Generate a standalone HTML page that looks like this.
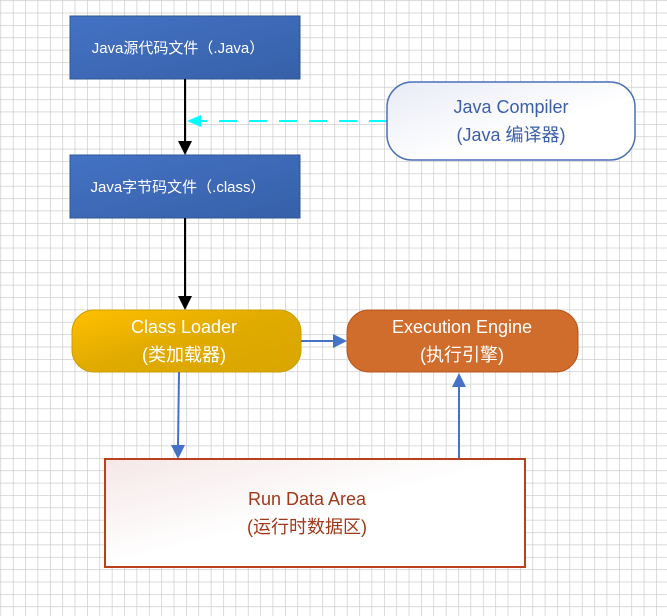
<!DOCTYPE html>
<html><head><meta charset="utf-8"><style>
html,body{margin:0;padding:0;background:#fff;}
svg{display:block;}
text{font-family:"Liberation Sans","Noto Sans CJK SC",sans-serif;}
</style></head><body>
<svg width="667" height="616" viewBox="0 0 667 616" xmlns="http://www.w3.org/2000/svg">
<defs>
<pattern id="g" x="0.5" y="0.3" width="12.37" height="12.37" patternUnits="userSpaceOnUse">
<path d="M0 0H12.37M0 0V12.37" stroke="#c4c4c4" stroke-width="1.2" fill="none"/>
</pattern>
<linearGradient id="blue" x1="0" y1="0" x2="1" y2="1"><stop offset="0" stop-color="#4472c4"/><stop offset="1" stop-color="#3660a8"/></linearGradient>
<linearGradient id="yel" x1="0" y1="0" x2="1" y2="1"><stop offset="0" stop-color="#ffc000"/><stop offset="0.5" stop-color="#e0aa00"/><stop offset="1" stop-color="#d9a600"/></linearGradient>
<linearGradient id="wb" x1="0" y1="0" x2="1" y2="1"><stop offset="0" stop-color="#e8ebf6"/><stop offset="0.6" stop-color="#fff"/></linearGradient>
<linearGradient id="wr" x1="0" y1="0" x2="1" y2="1"><stop offset="0" stop-color="#f5e7e7"/><stop offset="0.5" stop-color="#fff"/></linearGradient>
</defs>
<rect width="667" height="616" fill="url(#g)"/>

<rect x="70" y="16" width="230" height="63" fill="url(#blue)" stroke="#2f5597" stroke-width="1"/>
<text x="178" y="53" fill="#fff" font-size="15" text-anchor="middle">Java源代码文件（.Java）</text>
<rect x="70" y="155" width="230" height="63" fill="url(#blue)" stroke="#2f5597" stroke-width="1"/>
<text x="178" y="192" fill="#fff" font-size="15" text-anchor="middle">Java字节码文件（.class）</text>

<line x1="185" y1="79" x2="185" y2="142" stroke="#000" stroke-width="2"/>
<polygon points="178,141 192,141 185,155" fill="#000"/>
<line x1="185" y1="218" x2="185" y2="297" stroke="#000" stroke-width="2"/>
<polygon points="178,296 192,296 185,310" fill="#000"/>

<line x1="387" y1="121" x2="200" y2="121" stroke="#00ffff" stroke-width="2" stroke-dasharray="18,12"/>
<polygon points="187,121 201,115 201,127" fill="#00ffff"/>

<rect x="387" y="82" width="248" height="78" rx="25" fill="url(#wb)" stroke="#4a70b8" stroke-width="1.5"/>
<text x="511" y="113" fill="#3b5fa8" font-size="18" text-anchor="middle">Java Compiler</text>
<text x="511" y="141" fill="#3b5fa8" font-size="18" text-anchor="middle">(Java 编译器)</text>

<rect x="72" y="310" width="229" height="62" rx="22" fill="url(#yel)" stroke="#c9a000" stroke-width="1"/>
<text x="184" y="333" fill="#fff" font-size="18" text-anchor="middle">Class Loader</text>
<text x="184" y="361" fill="#fff" font-size="18" text-anchor="middle">(类加载器)</text>

<rect x="347" y="310" width="231" height="62" rx="22" fill="#d06c2c" stroke="#b5561e" stroke-width="1"/>
<text x="462" y="333" fill="#fff" font-size="18" text-anchor="middle">Execution Engine</text>
<text x="462" y="361" fill="#fff" font-size="18" text-anchor="middle">(执行引擎)</text>

<line x1="301" y1="341" x2="334" y2="341" stroke="#4472c4" stroke-width="2"/>
<polygon points="347,341 333,334 333,348" fill="#4472c4"/>

<line x1="179" y1="372" x2="178" y2="446" stroke="#4472c4" stroke-width="2"/>
<polygon points="171,445 185,445 178,459" fill="#4472c4"/>

<line x1="459" y1="459" x2="459" y2="386" stroke="#4472c4" stroke-width="2"/>
<polygon points="452,387 466,387 459,373" fill="#4472c4"/>

<rect x="105" y="459" width="420" height="108" fill="url(#wr)" stroke="#b8401a" stroke-width="2"/>
<text x="307" y="505" fill="#a0391a" font-size="18" text-anchor="middle">Run Data Area</text>
<text x="307" y="533" fill="#a0391a" font-size="18" text-anchor="middle">(运行时数据区)</text>
</svg>
</body></html>
